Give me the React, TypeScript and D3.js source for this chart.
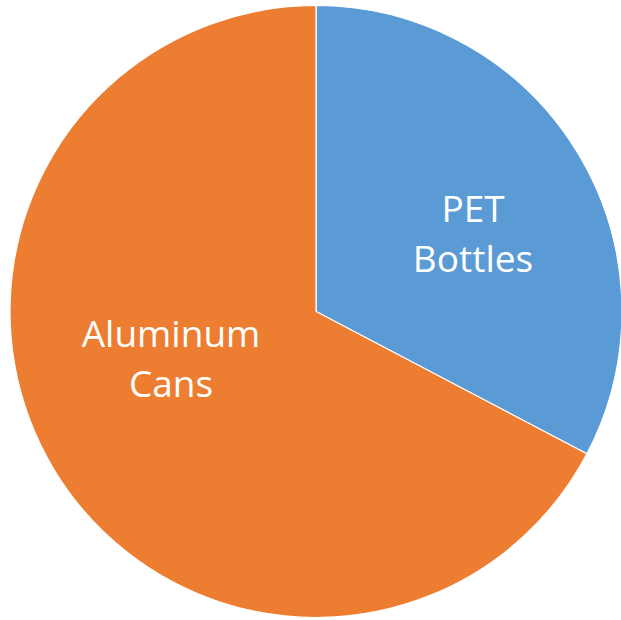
import React from "react";
import * as d3 from "d3";

// Share of collected beverage containers
const categories = ["PET Bottles", "Aluminum Cans"];
const shares = [32.7, 67.3];
const labelLines = [["PET", "Bottles"], ["Aluminum", "Cans"]];

const colors = ["#5B9BD5", "#ED7D31"];

const W = 621;
const H = 620;
const CX = 316;
const CY = 311.5;
const R = 306;

// Label block offsets relative to the pie centre, per slice
const labelOffsets: [number, number][] = [
  [157, -79],
  [-145, 46],
];

export default function App() {
  const pie = d3
    .pie<number>()
    .sort(null)
    .value((d) => d);
  const arcs = pie(shares);
  const arc = d3.arc<d3.PieArcDatum<number>>().innerRadius(0).outerRadius(R);

  const fontSize = 37;
  const lineGap = 50;

  return (
    <svg
      width={W}
      height={H}
      style={{ position: "fixed", left: 0, top: 0, background: "#fff" }}
    >
      <g transform={`translate(${CX},${CY})`}>
        {arcs.map((a, i) => (
          <path
            key={categories[i]}
            d={arc(a) || ""}
            fill={colors[i]}
            stroke="#fff"
            strokeWidth={1.2}
          />
        ))}
        {arcs.map((a, i) => {
          const [ox, oy] = labelOffsets[i];
          const lines = labelLines[i];
          const top = oy - ((lines.length - 1) * lineGap) / 2;
          return (
            <text
              key={"lbl" + i}
              textAnchor="middle"
              fill="#fff"
              fontFamily="'Open Sans', 'Noto Sans', sans-serif"
              fontSize={fontSize}
            >
              {lines.map((ln, j) => (
                <tspan
                  key={j}
                  x={ox}
                  y={top + j * lineGap}
                  dominantBaseline="central"
                >
                  {ln}
                </tspan>
              ))}
            </text>
          );
        })}
      </g>
    </svg>
  );
}
